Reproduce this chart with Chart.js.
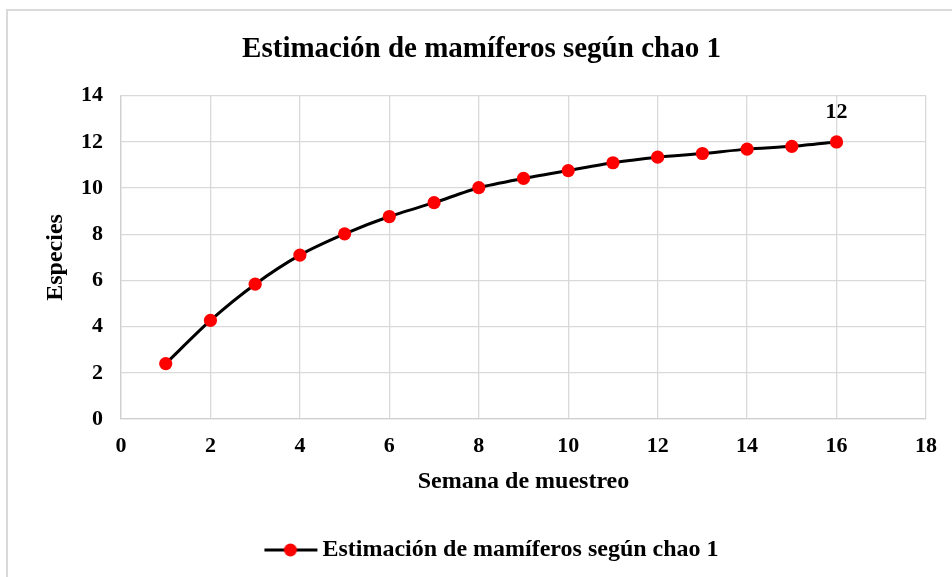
<!DOCTYPE html>
<html>
<head>
<meta charset="utf-8">
<script src="https://cdn.jsdelivr.net/npm/chart.js@4"></script>
<style>
  body { margin: 0; overflow: hidden; background: #fff; }
  #frame { position: absolute; left: 6px; top: 9px; width: 1000px; height: 1000px; border: 2px solid #dadada; background: #fff; }
  #chart { position: absolute; left: 0; top: 0; }
</style>
</head>
<body>
<div id="frame"></div>
<canvas id="chart" width="952" height="577"></canvas>
<script>
// semanas de muestreo y especies estimadas (chao 1)
var semanas = [1, 2, 3, 4, 5, 6, 7, 8, 9, 10, 11, 12, 13, 14, 15, 16];
var especies = [2.40, 4.27, 5.84, 7.10, 8.02, 8.77, 9.37, 10.02, 10.42, 10.76, 11.10, 11.34, 11.50, 11.69, 11.81, 12.0];
var serieNombre = 'Estimación de mamíferos según chao 1';
var tituloGrafico = 'Estimación de mamíferos según chao 1';
var tituloX = 'Semana de muestreo';
var tituloY = 'Especies';

var serif = "'Liberation Serif', 'Times New Roman', serif";
var boldFont = function(size) {
	return { family: serif, weight: 'bold', size: size };
};

// marcador de la leyenda: linea con punto (parte izquierda vacia)
var marker = document.createElement('canvas');
marker.width = 84;
marker.height = 16;
var mctx = marker.getContext('2d');
mctx.strokeStyle = '#000';
mctx.lineWidth = 3;
mctx.beginPath();
mctx.moveTo(29, 8);
mctx.lineTo(82, 8);
mctx.stroke();
mctx.fillStyle = '#ff0000';
mctx.beginPath();
mctx.arc(55, 8, 6.5, 0, Math.PI * 2);
mctx.fill();

// etiqueta del ultimo punto
var lastLabel = {
	id: 'lastLabel',
	afterDatasetsDraw: function(chart) {
		var meta = chart.getDatasetMeta(0);
		var i = especies.length - 1;
		var pt = meta.data[i];
		var ctx = chart.ctx;
		ctx.save();
		ctx.font = 'bold 22px ' + serif;
		ctx.fillStyle = '#000';
		ctx.textAlign = 'center';
		ctx.textBaseline = 'middle';
		ctx.fillText(String(especies[i]), pt.x, pt.y - 30);
		ctx.restore();
	}
};

var points = semanas.map(function(s, i) {
	return { x: s, y: especies[i] };
});

var config = {
	type: 'line',
	data: {
		datasets: [{
			label: serieNombre,
			data: points,
			borderColor: '#000',
			borderWidth: 3,
			tension: 0.25,
			pointRadius: 6.6,
			pointHoverRadius: 6.6,
			pointBackgroundColor: '#ff0000',
			pointBorderColor: '#ff0000',
			pointBorderWidth: 0,
			fill: false
		}]
	},
	options: {
		responsive: false,
		animation: false,
		layout: { padding: { left: 37, right: 26, top: 0, bottom: 5 } },
		plugins: {
			title: {
				display: true,
				text: tituloGrafico,
				color: '#000',
				font: boldFont(29),
				padding: { top: 32, bottom: 29 }
			},
			legend: {
				position: 'bottom',
				labels: {
					usePointStyle: true,
					pointStyleWidth: 66,
					color: '#000',
					font: boldFont(24),
					generateLabels: function(chart) {
						var items = Chart.defaults.plugins.legend.labels.generateLabels(chart);
						items.forEach(function(it) { it.pointStyle = marker; });
						return items;
					}
				}
			},
			tooltip: { enabled: false }
		},
		scales: {
			x: {
				type: 'linear',
				min: 0,
				max: 18,
				afterFit: function(scale) { scale.height = 109; },
				ticks: { stepSize: 2, color: '#000', font: boldFont(22), padding: 14 },
				grid: { color: '#d9d9d9', lineWidth: 1.3, drawTicks: false },
				border: { color: '#d0d0d0', width: 1.3 },
				title: { display: true, text: tituloX, color: '#000', font: boldFont(24), padding: { top: 4, bottom: 32 } }
			},
			y: {
				min: 0,
				max: 14,
				afterFit: function(scale) { scale.width = 84; },
				ticks: { stepSize: 2, color: '#000', font: boldFont(22), padding: 18 },
				grid: { color: '#d9d9d9', lineWidth: 1.3, drawTicks: false },
				border: { color: '#d0d0d0', width: 1.3 },
				title: { display: true, text: tituloY, color: '#000', font: boldFont(24), padding: { top: 4, bottom: 4 } }
			}
		}
	},
	plugins: [lastLabel]
};

var ctx = document.getElementById('chart').getContext('2d');
var chart = new Chart(ctx, config);
</script>
</body>
</html>
